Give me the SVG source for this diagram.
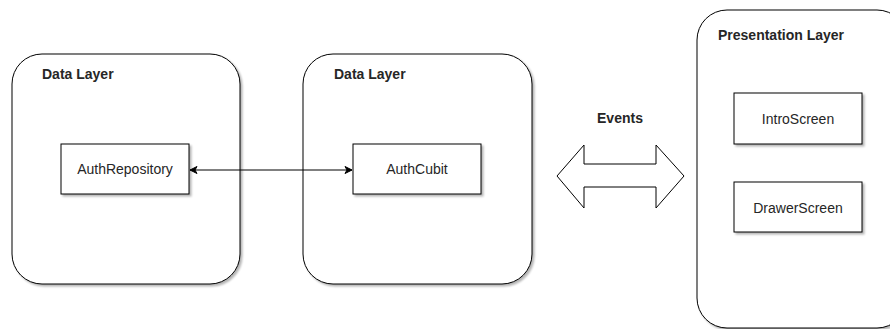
<svg xmlns="http://www.w3.org/2000/svg" width="890" height="329" viewBox="0 0 890 329">
  <style>
    .layer { fill: #ffffff; stroke: #000000; stroke-width: 1; filter: url(#shadow); }
    .box { fill: #ffffff; stroke: #000000; stroke-width: 1; filter: url(#shadow); }
    .title { font-family: "Liberation Sans", Arial, sans-serif; font-size: 14px; font-weight: bold; fill: #262626; }
    .label { font-family: "Liberation Sans", Arial, sans-serif; font-size: 14px; fill: #262626; text-anchor: middle; }
    .link { stroke: #000000; stroke-width: 1; fill: none; }
  </style>
  <defs>
    <filter id="shadow" x="-10%" y="-10%" width="130%" height="130%">
      <feGaussianBlur in="SourceAlpha" stdDeviation="1"/>
      <feOffset dx="2" dy="2"/>
      <feComponentTransfer><feFuncA type="linear" slope="0.3"/></feComponentTransfer>
      <feMerge><feMergeNode/><feMergeNode in="SourceGraphic"/></feMerge>
    </filter>
    <marker id="arrowEnd" markerWidth="10" markerHeight="10" refX="8" refY="5" orient="auto" markerUnits="userSpaceOnUse">
      <path d="M1,1.5 L8,5 L1,8.5 L3,5 Z" fill="#000000" stroke="#000000" stroke-width="1"/>
    </marker>
    <marker id="arrowStart" markerWidth="10" markerHeight="10" refX="2" refY="5" orient="auto" markerUnits="userSpaceOnUse">
      <path d="M9,1.5 L2,5 L9,8.5 L7,5 Z" fill="#000000" stroke="#000000" stroke-width="1"/>
    </marker>
  </defs>

  <g id="data-layer-left">
    <rect class="layer" x="12" y="54" width="228" height="230" rx="30" ry="30"/>
    <text class="title" x="42" y="79">Data Layer</text>
  </g>
  <g id="auth-repository">
    <rect class="box" x="61" y="144" width="128" height="50"/>
    <text class="label" x="125" y="174">AuthRepository</text>
  </g>

  <g id="data-layer-right">
    <rect class="layer" x="303" y="54" width="229" height="230" rx="30" ry="30"/>
    <text class="title" x="334" y="79">Data Layer</text>
  </g>
  <g id="auth-cubit">
    <rect class="box" x="353" y="144" width="128" height="50"/>
    <text class="label" x="417" y="174">AuthCubit</text>
  </g>

  <g id="presentation-layer">
    <rect class="layer" x="697" y="10" width="210" height="318" rx="30" ry="30"/>
    <text class="title" x="718" y="40">Presentation Layer</text>
  </g>
  <g id="intro-screen">
    <rect class="box" x="734" y="93" width="128" height="51"/>
    <text class="label" x="798" y="124">IntroScreen</text>
  </g>
  <g id="drawer-screen">
    <rect class="box" x="734" y="182" width="128" height="50"/>
    <text class="label" x="798" y="213">DrawerScreen</text>
  </g>

  <g id="events">
    <path d="M557,176 L584,145 L584,164 L656,164 L656,145 L684,176 L656,208 L656,187 L584,187 L584,208 Z" fill="#ffffff" stroke="#000000" stroke-width="1" stroke-linejoin="miter"/>
    <text class="title" x="620" y="123" text-anchor="middle">Events</text>
  </g>

  <g id="connectors">
    <line class="link" x1="190" y1="170" x2="352" y2="170" marker-start="url(#arrowStart)" marker-end="url(#arrowEnd)"/>
  </g>
</svg>
